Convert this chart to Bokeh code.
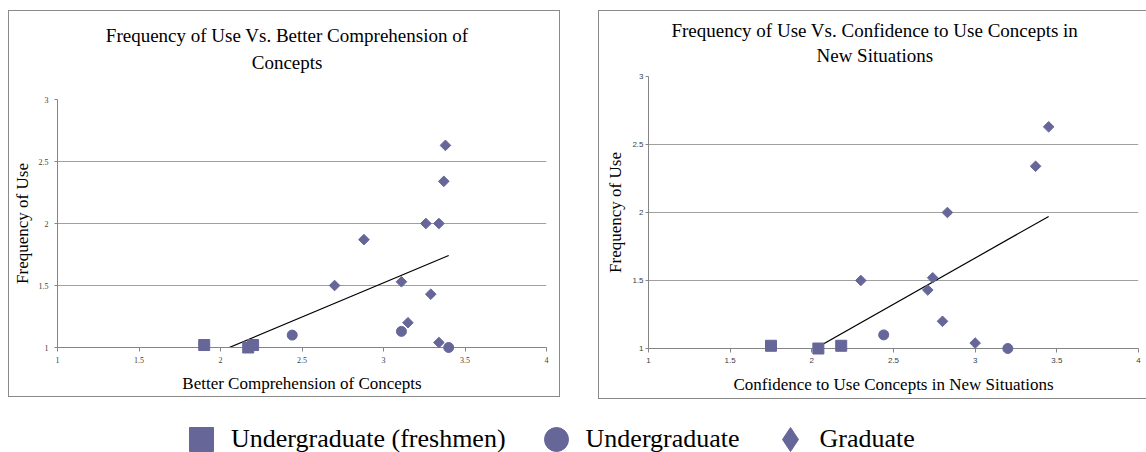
import numpy as np
from bokeh.plotting import figure
from bokeh.models import Range1d, Legend, LegendItem, Spacer, FixedTicker
from bokeh.layouts import column, row
from bokeh.embed import file_html
from bokeh.resources import INLINE
from bokeh.core.properties import value

# ---------------- data ----------------
x_ticks = [1, 1.5, 2, 2.5, 3, 3.5, 4]
x_tick_labels = ["1", "1.5", "2", "2.5", "3", "3.5", "4"]
y_ticks = [1, 1.5, 2, 2.5, 3]
y_tick_labels = ["1", "1.5", "2", "2.5", "3"]

series_names = ["Undergraduate (freshmen)", "Undergraduate", "Graduate"]

# Chart 1: Better Comprehension of Concepts
fresh_x_comp = [1.90, 2.17, 2.20]
fresh_y_comp = [1.02, 1.00, 1.02]
ug_x_comp = [2.44, 3.11, 3.40]
ug_y_comp = [1.10, 1.13, 1.00]
grad_x_comp = [3.38, 3.37, 3.26, 3.34, 2.88, 2.70, 3.11, 3.29, 3.15, 3.34]
grad_y_comp = [2.63, 2.34, 2.00, 2.00, 1.87, 1.50, 1.53, 1.43, 1.20, 1.04]

# Chart 2: Confidence to Use Concepts in New Situations
fresh_x_conf = [1.75, 2.04, 2.18]
fresh_y_conf = [1.02, 1.00, 1.02]
ug_x_conf = [2.44, 3.20]
ug_y_conf = [1.10, 1.00]
grad_x_conf = [3.45, 3.37, 2.83, 2.30, 2.74, 2.71, 2.80, 3.00]
grad_y_conf = [2.63, 2.34, 2.00, 1.50, 1.52, 1.43, 1.20, 1.04]

title_comp = "Frequency of Use Vs. Better Comprehension of\nConcepts"
title_conf = "Frequency of Use Vs. Confidence to Use Concepts in\nNew Situations"
xlabel_comp = "Better Comprehension of Concepts"
xlabel_conf = "Confidence to Use Concepts in New Situations"
ylabel = "Frequency of Use"

COLOR = "#666699"
SERIF = "Liberation Serif"


def make_panel(width, height, borders, fresh, ug, grad, title, title_off, title_lh,
               xlabel, tick_font, tick_size, ystand, xstand):
    left, right, top, bottom = borders
    p = figure(width=width, height=height, output_backend="svg",
               toolbar_location=None, x_range=Range1d(1, 4), y_range=Range1d(1, 3),
               min_border_left=left, min_border_right=right,
               min_border_top=top, min_border_bottom=bottom)
    p.outline_line_color = None
    p.background_fill_color = "white"
    p.border_fill_color = "white"

    p.xaxis.ticker = FixedTicker(ticks=x_ticks)
    p.yaxis.ticker = FixedTicker(ticks=y_ticks)
    p.xaxis.major_label_overrides = dict(zip(x_ticks, x_tick_labels))
    p.yaxis.major_label_overrides = dict(zip(y_ticks, y_tick_labels))
    p.xgrid.grid_line_color = None
    p.ygrid.grid_line_color = "#a0a0a0"
    p.ygrid.grid_line_width = 1.2

    for ax in (p.xaxis[0], p.yaxis[0]):
        ax.axis_line_color = "#858585"
        ax.major_tick_line_color = "#858585"
        ax.minor_tick_line_color = None
        ax.major_tick_in = 0
        ax.major_label_text_font = tick_font
        ax.major_label_text_font_size = tick_size
        ax.major_label_text_color = "#404040"
        ax.axis_label_text_font = SERIF
        ax.axis_label_text_font_size = "17px"
        ax.axis_label_text_font_style = "normal"
        ax.axis_label_text_color = "black"

    p.xaxis.axis_label = xlabel
    p.yaxis.axis_label = ylabel
    p.xaxis.major_tick_out = 4
    p.yaxis.major_tick_out = 3
    p.yaxis.major_label_standoff = ystand[0]
    p.yaxis.axis_label_standoff = ystand[1]
    p.xaxis.major_label_standoff = xstand[0]
    p.xaxis.axis_label_standoff = xstand[1]

    # linear trendline over all points (clipped to the frame like Excel)
    all_x = np.array(fresh[0] + ug[0] + grad[0])
    all_y = np.array(fresh[1] + ug[1] + grad[1])
    slope, intercept = np.polyfit(all_x, all_y, 1)
    tx = np.array([all_x.min(), all_x.max()])
    p.line(tx, slope * tx + intercept, line_color="black", line_width=1.2)

    r1 = p.scatter(fresh[0], fresh[1], marker="square", size=11, color=COLOR)
    r2 = p.scatter(ug[0], ug[1], marker="circle", size=10, color=COLOR)
    r3 = p.scatter(grad[0], grad[1], marker="square", angle=np.pi / 4, size=7.5, color=COLOR)
    for r in (r1, r2, r3):
        r.level = "overlay"

    # chart title, anchored at the frame's top-left corner and offset in pixels
    t = p.text(x=[p.x_range.start], y=[p.y_range.end], text=[title],
               x_offset=title_off[0], y_offset=title_off[1],
               text_align="center", text_baseline="middle",
               text_font=value(SERIF), text_font_size="19px", text_line_height=title_lh,
               text_color="black")
    t.level = "overlay"
    return p


def boxed(p):
    return column(p, styles={"border": "1px solid #8a8a8a"})


p1 = make_panel(550, 385, (47, 13, 88, 49),
                (fresh_x_comp, fresh_y_comp), (ug_x_comp, ug_y_comp), (grad_x_comp, grad_y_comp),
                title_comp, (229.6, -50.5), 1.3, xlabel_comp, SERIF, "8px", (6, 4), (5, 8))
p2 = make_panel(547, 387, (49, 8, 65, 50),
                (fresh_x_conf, fresh_y_conf), (ug_x_conf, ug_y_conf), (grad_x_conf, grad_y_conf),
                title_conf, (226.3, -33.5), 1.22, xlabel_conf, "Liberation Sans", "8px", (2, 4), (5, 9))

# ---------------- legend ----------------
lf = figure(width=1146, height=53, output_backend="svg", toolbar_location=None,
            x_range=Range1d(0, 1), y_range=Range1d(0, 1), min_border=0)
lf.axis.visible = False
lf.grid.grid_line_color = None
lf.outline_line_color = None
# legend renderers carry the series data but sit outside this strip's visible range
lr1 = lf.scatter(fresh_x_comp, fresh_y_comp, marker="square", color=COLOR)
lr2 = lf.scatter(ug_x_comp, ug_y_comp, marker="circle", color=COLOR)
lr3 = lf.scatter(grad_x_comp, grad_y_comp, marker="diamond", color=COLOR)
legend = Legend(items=[LegendItem(label=series_names[0], renderers=[lr1]),
                       LegendItem(label=series_names[1], renderers=[lr2]),
                       LegendItem(label=series_names[2], renderers=[lr3])],
                orientation="horizontal", location=(171, -17),
                glyph_width=60, glyph_height=60, label_standoff=0, spacing=20,
                padding=0, margin=0, border_line_color=None, background_fill_alpha=0,
                label_text_font=SERIF, label_text_font_size="26px", label_text_color="black")
lf.add_layout(legend, "center")

layout = column(Spacer(height=10),
                row(Spacer(width=8), boxed(p1), Spacer(width=38), boxed(p2)),
                lf)

open("out.html", "w").write(file_html(layout, INLINE))
